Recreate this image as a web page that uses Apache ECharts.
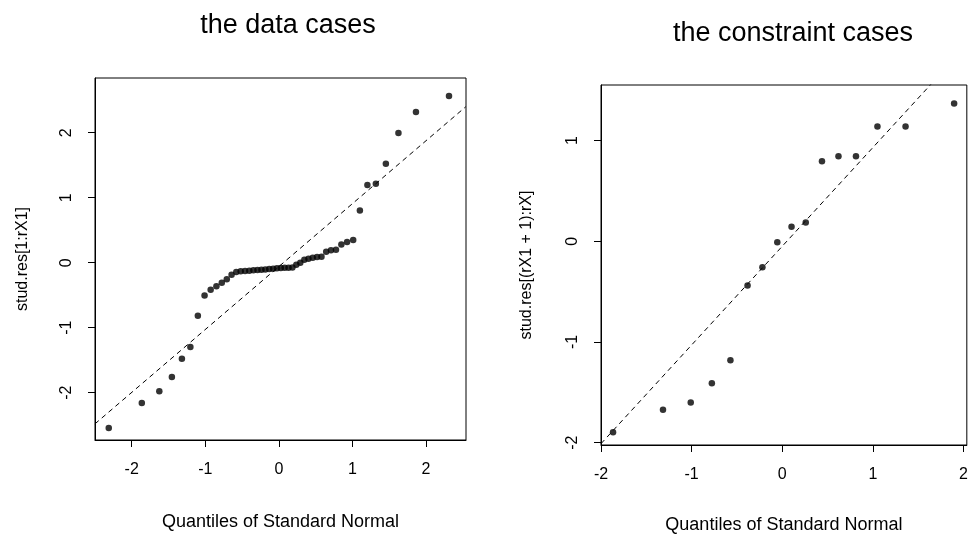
<!DOCTYPE html>
<html>
<head>
<meta charset="utf-8">
<script src="https://cdn.jsdelivr.net/npm/echarts@6/dist/echarts.min.js"></script>
<style>
html,body{margin:0;padding:0;background:#fff;}
#c{width:971px;height:539px;}
</style>
</head>
<body>
<div id="c"></div>
<script>
// ---- data: left panel ("the data cases") ----
const leftX = [-2.312,-1.863,-1.625,-1.454,-1.318,-1.203,-1.101,-1.010,-0.927,-0.849,-0.776,-0.708,-0.643,
  -0.579,-0.519,-0.460,-0.402,-0.346,-0.291,-0.237,-0.184,-0.131,-0.078,-0.026,0.026,0.078,0.131,0.184,
  0.237,0.291,0.346,0.402,0.460,0.519,0.579,0.643,0.708,0.776,0.849,0.927,1.010,1.101,1.203,1.318,1.454,1.625,1.863,2.312];
const leftY = [-2.544,-2.159,-1.979,-1.759,-1.477,-1.297,-0.815,-0.503,-0.415,-0.364,-0.308,-0.256,-0.185,
  -0.144,-0.133,-0.128,-0.123,-0.118,-0.113,-0.108,-0.103,-0.097,-0.092,-0.087,-0.082,-0.077,-0.077,-0.072,
  -0.031,0.000,0.046,0.062,0.077,0.087,0.092,0.169,0.190,0.200,0.282,0.318,0.349,0.805,1.195,1.215,1.523,1.995,2.318,2.564];
const leftLine = [[-2.50,-2.48],[2.54,2.40]];

// ---- data: right panel ("the constraint cases") ----
const rightX = [-1.867,-1.316,-1.010,-0.777,-0.572,-0.383,-0.219,-0.055,0.102,0.259,0.438,0.620,0.813,1.050,1.360,1.896];
const rightY = [-1.896,-1.673,-1.601,-1.411,-1.181,-0.440,-0.259,-0.010,0.144,0.187,0.794,0.843,0.843,1.138,1.138,1.368];
const rightLine = [[-2.0,-2.01],[2.04,1.95]];

const ticksLeftX = [-2,-1,0,1,2];
const ticksLeftY = [-2,-1,0,1,2];
const ticksRightX = [-2,-1,0,1,2];
const ticksRightY = [-2,-1,0,1];

const titles = ['the data cases','the constraint cases'];
const xName = 'Quantiles of Standard Normal';
const yNames = ['stud.res[1:rX1]','stud.res[(rX1 + 1):rX]'];

const FONT = 'Liberation Sans, Arial, Helvetica, sans-serif';

function pairs(xs, ys){ return xs.map((x,i)=>[x, ys[i]]); }

function xAxisCfg(idx, min, max, ticks, gap){
  return {
    type:'value', gridIndex: idx, min, max,
    name: xName, nameLocation:'middle', nameGap: gap,
    nameTextStyle:{color:'#000', fontFamily:FONT, fontSize:18},
    axisLine:{show:true, onZero:false, lineStyle:{color:'#000', width:1}},
    axisTick:{show:true, inside:false, length:7, customValues: ticks, lineStyle:{color:'#000'}},
    axisLabel:{show:true, customValues: ticks, margin:22, color:'#000', fontFamily:FONT, fontSize:16, showMinLabel:true, showMaxLabel:true},
    splitLine:{show:false}
  };
}
function yAxisCfg(idx, min, max, ticks, name, gap){
  return {
    type:'value', gridIndex: idx, min, max,
    name: name, nameLocation:'middle', nameGap: gap, nameRotate: 90,
    nameTextStyle:{color:'#000', fontFamily:FONT, fontSize:16},
    axisLine:{show:true, onZero:false, lineStyle:{color:'#000', width:1}},
    axisTick:{show:true, inside:false, length:7, customValues: ticks, lineStyle:{color:'#000'}},
    axisLabel:{show:true, customValues: ticks, rotate:90, margin:20, color:'#000', fontFamily:FONT, fontSize:16, showMinLabel:true, showMaxLabel:true},
    splitLine:{show:false}
  };
}

const chart = echarts.init(document.getElementById('c'), null, {renderer:'canvas'});
chart.setOption({
  animation:false,
  backgroundColor:'#fff',
  title:[
    {text:titles[0], left:283, top:7, textAlign:'center', textStyle:{fontFamily:FONT, fontSize:27, fontWeight:'normal', color:'#000'}},
    {text:titles[1], left:788, top:15, textAlign:'center', textStyle:{fontFamily:FONT, fontSize:27, fontWeight:'normal', color:'#000'}}
  ],
  grid:[
    {left:95, top:78, width:371, height:362, show:true, borderColor:'#000', borderWidth:1, backgroundColor:'transparent'},
    {left:601, top:85, width:369, height:363, show:true, borderColor:'#000', borderWidth:1, backgroundColor:'transparent'}
  ],
  xAxis:[
    xAxisCfg(0, -2.499, 2.543, ticksLeftX, 73),
    xAxisCfg(1, -2.0, 2.036, ticksRightX, 71)
  ],
  yAxis:[
    yAxisCfg(0, -2.728, 2.842, ticksLeftY, yNames[0], 64),
    yAxisCfg(1, -2.023, 1.551, ticksRightY, yNames[1], 66)
  ],
  series:[
    {type:'line', xAxisIndex:0, yAxisIndex:0, data:leftLine, showSymbol:false, clip:true,
     lineStyle:{color:'#000', width:1, type:[5,4]}, silent:true},
    {type:'scatter', xAxisIndex:0, yAxisIndex:0, data:pairs(leftX,leftY), symbolSize:6.5,
     itemStyle:{color:'#000'}},
    {type:'line', xAxisIndex:1, yAxisIndex:1, data:rightLine, showSymbol:false, clip:true,
     lineStyle:{color:'#000', width:1, type:[5,4]}, silent:true},
    {type:'scatter', xAxisIndex:1, yAxisIndex:1, data:pairs(rightX,rightY), symbolSize:6.5,
     itemStyle:{color:'#000'}}
  ]
});
</script>
</body>
</html>
